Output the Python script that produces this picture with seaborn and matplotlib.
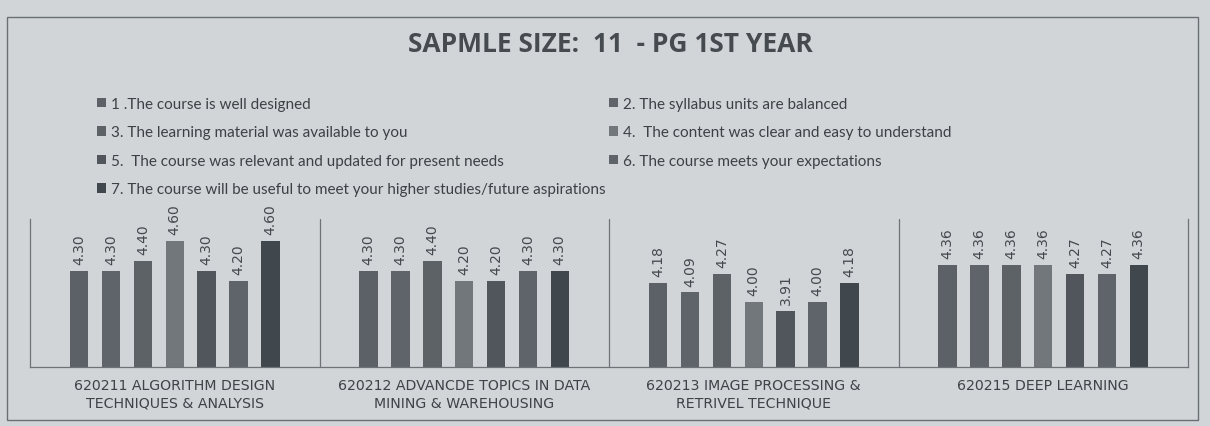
import numpy as np
import pandas as pd
import matplotlib
matplotlib.use("Agg")
import matplotlib.pyplot as plt
import seaborn as sns
from matplotlib.patches import Rectangle

# data
courses = [
    "620211 ALGORITHM DESIGN\nTECHNIQUES & ANALYSIS",
    "620212 ADVANCDE TOPICS IN DATA\nMINING & WAREHOUSING",
    "620213 IMAGE PROCESSING &\nRETRIVEL TECHNIQUE",
    "620215 DEEP LEARNING",
]
questions = [
    "1 .The course is well designed",
    "2. The syllabus units are balanced",
    "3. The learning material was available to you",
    "4.  The content was clear and easy to understand",
    "5.  The course was relevant and updated for present needs",
    "6. The course meets your expectations",
    "7. The course will be useful to meet your higher studies/future aspirations",
]
scores = [
    [4.30, 4.30, 4.40, 4.60, 4.30, 4.20, 4.60],
    [4.30, 4.30, 4.40, 4.20, 4.20, 4.30, 4.30],
    [4.18, 4.09, 4.27, 4.00, 3.91, 4.00, 4.18],
    [4.36, 4.36, 4.36, 4.36, 4.27, 4.27, 4.36],
]
bar_colors = ["#5b6166", "#5e6469", "#5d6267", "#72777b", "#50565b", "#5e6469", "#41484d"]

rows = []
for c, vals in zip(courses, scores):
    for q, v in zip(questions, vals):
        rows.append({"course": c, "question": q, "score": v})
df = pd.DataFrame(rows)

bg = "#d1d5d8"
sns.set_style("white")
plt.rcParams["font.family"] = ["Lato", "DejaVu Sans"]

fig = plt.figure(figsize=(12.1, 4.27), dpi=100)
fig.patch.set_facecolor(bg)
ax = fig.add_axes([30 / 1210, 1 - 368 / 427, 1158 / 1210, 148 / 427])
ax.set_facecolor(bg)

sns.barplot(data=df, x="course", y="score", hue="question", order=courses,
            hue_order=questions, palette=bar_colors, width=0.77, gap=0.42,
            saturation=1, edgecolor="none", legend=True, ax=ax)

for cont in ax.containers:
    ax.bar_label(cont, fmt="%.2f", rotation=90, padding=5, fontsize=10,
                 color="#45494d", family="DejaVu Sans")

ax.set_ylim(3.35, 4.82)
ax.set_xlim(-0.5, 3.5)
ax.set_yticks([])
ax.set_xlabel("")
ax.set_ylabel("")
ax.set_xticks(range(len(courses)))
ax.set_xticklabels(courses, fontsize=10.2, color="#3e4347", family="DejaVu Sans",
                   linespacing=1.35)
ax.tick_params(axis="x", length=0, pad=8)
ax.set_xticks([0.5, 1.5, 2.5], minor=True)
ax.grid(True, which="minor", axis="x", color="#6e7377", lw=0.9)
ax.tick_params(axis="x", which="minor", length=0)
for s in ["left", "right", "bottom"]:
    ax.spines[s].set_color("#6e7377")
    ax.spines[s].set_linewidth(0.9)
ax.spines["top"].set_visible(False)

# legend: row-wise order like the printout
handles, labels = ax.get_legend_handles_labels()
idx = [0, 2, 4, 6, 1, 3, 5]
ax.legend([handles[i] for i in idx], [labels[i] for i in idx], ncol=2,
          loc="upper left", bbox_to_anchor=(83 / 1210, 1 - 84 / 427),
          bbox_transform=fig.transFigure, frameon=False, fontsize=11,
          handlelength=0.6, handleheight=0.6, handletextpad=0.35,
          labelspacing=0.95, columnspacing=0.2, labelcolor="#3c4145")

fig.text(610 / 1210, 1 - 45 / 427, "SAPMLE SIZE:  11  - PG 1ST YEAR",
         ha="center", va="center", fontsize=19, fontweight="bold",
         color="#464b50", family="Open Sans")

# outer frame of the printed page
fig.add_artist(Rectangle((7 / 1210, 1 - 421 / 427), 1191 / 1210, 403 / 427,
                         transform=fig.transFigure, fill=False,
                         edgecolor="#6a6f73", lw=1.0))

fig.savefig("out.png", dpi=100, facecolor=bg)
